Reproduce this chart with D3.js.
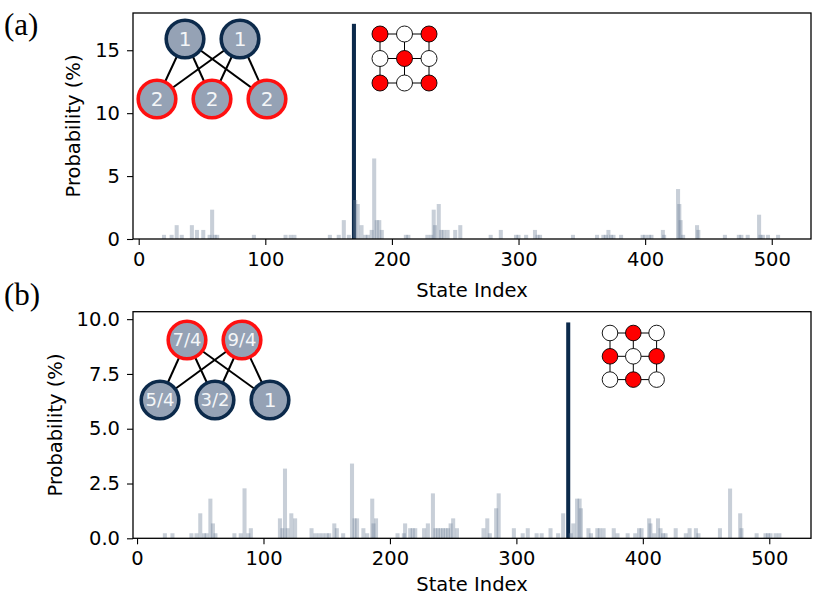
<!DOCTYPE html>
<html><head><meta charset="utf-8">
<script src="https://cdn.jsdelivr.net/npm/d3@7"></script>
<style>body{margin:0;background:#fff}</style>
</head><body>
<svg id="c" width="830" height="603"></svg>
<script>
// ---------- DATA ----------
const stateIndexA = [20,26,30,34,42,46,51,56,58,60,62,91,116,120,123,151,158,162,166,171,173,176,179,181,184,186,188,190,192,211,213,228,231,233,234,237,239,241,244,250,254,278,286,298,300,306,313,315,317,343,362,367,369,371,373,375,381,398,400,403,405,414,415,426,427,428,430,441,442,463,474,476,481,490,491,493,497,505];
const probA = [0.33,0.33,1.1,0.33,1.1,0.72,0.72,0.33,2.33,0.33,0.33,0.33,0.33,0.33,0.33,0.33,0.33,1.5,0.33,3.1,2.78,1.1,0.33,0.33,0.72,6.4,1.5,1.5,0.72,0.33,0.33,0.33,0.33,2.33,1.1,2.78,0.72,0.72,0.72,0.72,1.1,0.33,0.72,0.33,0.33,0.33,0.72,0.33,0.33,0.33,0.33,0.33,0.33,0.72,0.33,0.33,0.33,0.33,0.33,0.33,0.33,0.72,0.33,3.97,2.78,1.5,0.33,1.1,0.72,0.33,0.33,0.33,0.33,1.93,0.33,0.33,0.33,0.33];
const targetIndexA = 170, targetProbA = 17.1;

const stateIndexB = [22,28,43,47,50,53,55,58,60,62,77,82,85,88,90,113,115,117,119,122,125,138,141,144,147,150,152,156,158,163,170,172,174,179,182,186,187,189,206,211,212,216,218,220,227,230,234,236,238,240,242,244,246,248,250,253,274,277,279,284,286,298,305,309,316,320,327,333,337,343,345,348,350,351,357,359,364,366,369,377,380,388,394,397,399,405,406,409,412,414,416,418,426,434,437,442,444,461,469,477,478,490,497,499,501,505,508];
const probB = [0.23,0.23,0.23,0.23,1.14,0.23,0.23,1.81,0.68,0.23,0.23,0.23,2.28,0.23,0.46,0.91,0.46,3.18,0.46,1.14,0.91,0.46,0.23,0.23,0.23,0.23,0.23,0.68,0.46,0.23,3.41,0.91,0.91,0.46,0.23,1.81,0.68,0.91,0.23,0.23,0.68,0.46,0.46,0.46,0.46,0.68,2.05,0.46,0.46,0.46,0.46,0.46,0.46,0.68,0.91,0.46,0.46,0.91,0.23,1.37,2.05,0.46,0.23,0.46,0.23,0.23,0.46,0.23,1.14,0.23,0.68,1.81,1.81,1.37,0.46,0.23,0.46,0.46,0.46,0.46,0.23,0.23,0.23,0.46,0.46,0.91,0.68,0.23,0.91,0.46,0.23,0.23,0.46,0.23,0.46,0.46,0.23,0.46,2.27,1.14,0.46,0.23,0.23,0.23,0.23,0.23,0.23];
const targetIndexB = 341, targetProbB = 9.85;

const yTicksA = [0,5,10,15];
const yTicksB = [0,2.5,5,7.5,10];
const xTicks = [0,100,200,300,400,500];

const graphLabelsA = {top:["1","1"], bottom:["2","2","2"]};
const graphLabelsB = {top:["7/4","9/4"], bottom:["5/4","3/2","1"]};
const latticeA = [1,0,1, 0,1,0, 1,0,1];
const latticeB = [0,1,0, 1,0,1, 0,1,0];

// ---------- STYLE ----------
const NAVY = "#0c2a4b", RED = "#ff1010", NODEFILL = "#95a2b5", BARCOL = "#6f8099";
const FONT = "'DejaVu Sans', sans-serif";
const svg = d3.select("#c");

function panel(o){
  const x = d3.scaleLinear().domain(o.xDomain).range([o.left,o.right]);
  const y = d3.scaleLinear().domain(o.yDomain).range([o.bottom,o.top]);
  const g = svg.append("g");
  const bw = x(3.2)-x(0);
  // target bar
  g.append("rect").attr("x", x(o.tIdx)-bw/2).attr("width", bw)
    .attr("y", y(o.tVal)).attr("height", y(0)-y(o.tVal)).attr("fill", NAVY);
  // other bars
  g.selectAll("rect.b").data(o.idx.map((d,i)=>({i:d,v:o.val[i]}))).enter().append("rect")
    .attr("class","b").attr("x", d=>x(d.i)-bw/2).attr("width", bw)
    .attr("y", d=>y(d.v)).attr("height", d=>y(0)-y(d.v))
    .attr("fill", BARCOL).attr("fill-opacity", 0.38);
  // axes
  const xa = g.append("g").attr("transform",`translate(0,${o.bottom})`)
    .call(d3.axisBottom(x).tickValues(xTicks).tickSize(6).tickPadding(7).tickSizeOuter(0));
  const ya = g.append("g").attr("transform",`translate(${o.left},0)`)
    .call(d3.axisLeft(y).tickValues(o.yTicks).tickFormat(o.fmt).tickSize(6).tickPadding(7).tickSizeOuter(0));
  [xa,ya].forEach(a=>{
    a.select(".domain").remove();
    a.selectAll("line").attr("stroke","#000").attr("stroke-width",1.1);
    a.selectAll("text").attr("font-family",FONT).attr("font-size",19.5).attr("fill","#000");
  });
  g.append("rect").attr("x",o.left).attr("y",o.top).attr("width",o.right-o.left).attr("height",o.bottom-o.top)
    .attr("fill","none").attr("stroke","#000").attr("stroke-width",1.3);
  g.append("text").attr("x",(o.left+o.right)/2).attr("y",o.xlabY).attr("text-anchor","middle")
    .attr("font-family",FONT).attr("font-size",19.5).text("State Index");
  g.append("text").attr("transform",`translate(${o.ylabX},${(o.top+o.bottom)/2}) rotate(-90)`)
    .attr("text-anchor","middle").attr("font-family",FONT).attr("font-size",19.5).text("Probability (%)");
  g.append("text").attr("x",4).attr("y",o.tagY).attr("font-family","'Liberation Serif', serif")
    .attr("font-size",31).text(o.tag);

  // bipartite inset
  const gi = g.append("g");
  const tops = o.graph.top.map((t,i)=>({x:o.gx.top[i], y:o.gy[0], t, s:o.topStroke}));
  const bots = o.graph.bottom.map((t,i)=>({x:o.gx.bottom[i], y:o.gy[1], t, s:o.botStroke}));
  tops.forEach(a=>bots.forEach(b=>gi.append("line").attr("x1",a.x).attr("y1",a.y).attr("x2",b.x).attr("y2",b.y)
    .attr("stroke","#000").attr("stroke-width",2)));
  tops.concat(bots).forEach(n=>{
    gi.append("circle").attr("cx",n.x).attr("cy",n.y).attr("r",18.8).attr("fill",NODEFILL)
      .attr("stroke",n.s).attr("stroke-width",3.6);
    gi.append("text").attr("x",n.x).attr("y",n.y).attr("dy","0.36em").attr("text-anchor","middle")
      .attr("font-family",FONT).attr("font-size",n.t.length>1?18:20).attr("fill","#f4f6f8").text(n.t);
  });
  // lattice inset
  const gl = g.append("g");
  const lp = o.lat;
  for(let r=0;r<3;r++){
    gl.append("line").attr("x1",lp.x0).attr("x2",lp.x0+2*lp.d).attr("y1",lp.y0+r*lp.d).attr("y2",lp.y0+r*lp.d).attr("stroke","#000").attr("stroke-width",1);
    gl.append("line").attr("y1",lp.y0).attr("y2",lp.y0+2*lp.d).attr("x1",lp.x0+r*lp.d).attr("x2",lp.x0+r*lp.d).attr("stroke","#000").attr("stroke-width",1);
  }
  o.latVals.forEach((v,k)=>{
    gl.append("circle").attr("cx",lp.x0+(k%3)*lp.d).attr("cy",lp.y0+Math.floor(k/3)*lp.d).attr("r",lp.r)
      .attr("fill", v? "#ff0000":"#fff").attr("stroke","#000").attr("stroke-width",0.9);
  });
}

panel({left:133,right:811,top:13,bottom:239,xDomain:[-4.5,531],yDomain:[0,17.96],
  idx:stateIndexA,val:probA,tIdx:targetIndexA,tVal:targetProbA,yTicks:yTicksA,fmt:d3.format("d"),
  xlabY:297,ylabX:80,tag:"(a)",tagY:35,
  graph:graphLabelsA,gx:{top:[185,240],bottom:[157,212,267]},gy:[39,99],topStroke:NAVY,botStroke:RED,
  lat:{x0:380,y0:34,d:24.5,r:8},latVals:latticeA});
panel({left:133,right:811,top:311.7,bottom:538.3,xDomain:[-3.2,533],yDomain:[0,10.34],
  idx:stateIndexB,val:probB,tIdx:targetIndexB,tVal:targetProbB,yTicks:yTicksB,fmt:d3.format(".1f"),
  xlabY:591,ylabX:62,tag:"(b)",tagY:305,
  graph:graphLabelsB,gx:{top:[187,242],bottom:[160,215,270]},gy:[340,400],topStroke:RED,botStroke:NAVY,
  lat:{x0:610,y0:333,d:23.3,r:7.8},latVals:latticeB});
</script>
</body></html>
